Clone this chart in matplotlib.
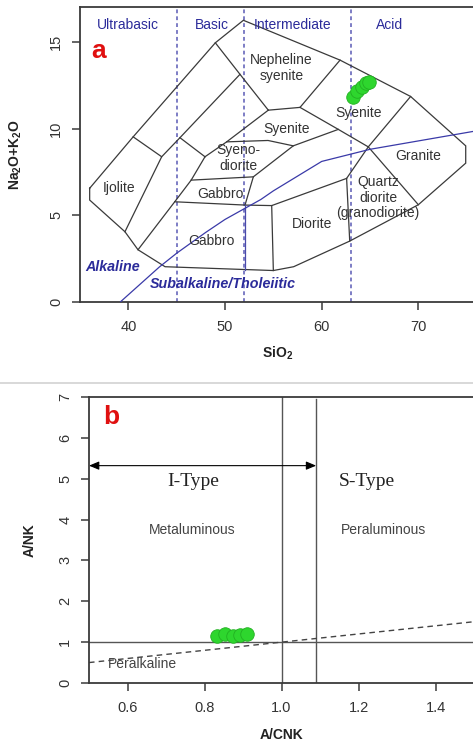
import matplotlib
matplotlib.use("Agg")
import matplotlib.pyplot as plt

plt.rcParams['font.family'] = ['Liberation Sans', 'DejaVu Sans']
plt.rcParams['mathtext.fontset'] = 'custom'
plt.rcParams['mathtext.rm'] = 'Liberation Sans'
plt.rcParams['mathtext.bf'] = 'Liberation Sans:bold'
plt.rcParams['mathtext.it'] = 'Liberation Sans:italic'

# ---------------- data ----------------
# samples, panel a (TAS)
sio2_samples = [63.2, 63.68, 64.13, 64.58, 64.92]
alk_samples = [11.81, 12.14, 12.39, 12.62, 12.71]
# samples, panel b (Shand)
acnk_samples = [0.832, 0.853, 0.875, 0.892, 0.910]
ank_samples = [1.15, 1.21, 1.15, 1.17, 1.19]

# Irvine & Baragar alkaline / subalkaline divide
ib_sio2 = [39.2, 40, 43.2, 45, 48, 50, 53.7, 55, 60, 65, 77.4]
ib_alk = [0, 0.4, 2, 2.8, 4, 4.75, 5.9, 6.4, 8.1, 8.8, 10]

# TAS (plutonic) field vertices (SiO2, Na2O+K2O)
V = {
    'K': (36.0, 6.55), 'R': (40.5, 9.52), 'A': (49.0, 14.95), 'B': (51.9, 16.25),
    'C': (61.9, 13.95), 'D': (69.2, 11.85), 'E': (74.9, 9.0), 'F': (74.9, 8.0),
    'G': (70.0, 5.6), 'H': (62.9, 3.5), 'I': (57.1, 2.02), 'J': (55.0, 1.8),
    'O': (43.8, 2.02), 'N': (41.0, 3.0), 'M': (39.65, 4.04), 'L': (36.0, 5.87),
    'S1': (43.45, 8.37), 'S2': (45.34, 9.47), 'T': (51.55, 13.13), 'S3': (47.93, 8.37),
    'U': (54.48, 11.06), 'Vx': (50.17, 9.23), 'SL': (46.5, 7.02), 'GL': (44.8, 5.77),
    'W': (57.76, 11.22), 'X': (61.72, 9.95), 'Q': (64.82, 8.94), 'Q2': (62.58, 7.12),
    'Z': (54.45, 9.31), 'Y': (57.06, 9.0), 'SD': (52.93, 7.21), 'GU': (52.07, 5.58),
    'DT': (54.83, 5.55), 'GB': (52.07, 1.83),
}
boundaries = [
    ['K', 'R', 'A', 'B', 'C', 'D', 'E', 'F', 'G', 'H', 'I', 'J', 'O', 'N', 'M', 'L', 'K'],
    ['R', 'S1', 'M'],
    ['S1', 'S2', 'T'],
    ['S2', 'S3'],
    ['A', 'T', 'U'],
    ['S3', 'Vx', 'U'],
    ['S3', 'SL', 'GL', 'N'],
    ['U', 'W', 'C'],
    ['W', 'X', 'Q', 'G'],
    ['D', 'Q'],
    ['Q', 'Q2', 'H'],
    ['Vx', 'Z', 'Y', 'X'],
    ['Y', 'SD', 'GU'],
    ['SL', 'SD'],
    ['GL', 'GU', 'DT', 'Q2'],
    ['DT', 'J'],
]
blue_boundaries = [['GU', 'GB']]

field_labels = [
    ('Nepheline\nsyenite', 55.86, 13.5), ('Syenite', 63.8, 10.9), ('Syenite', 56.4, 10.0),
    ('Syeno-\ndiorite', 51.4, 8.3), ('Gabbro', 49.5, 6.23), ('Gabbro', 48.6, 3.48),
    ('Diorite', 59.0, 4.5), ('Quartz\ndiorite\n(granodiorite)', 65.85, 6.0),
    ('Granite', 70.0, 8.42), ('Ijolite', 39.0, 6.56),
]
class_bounds = [45, 52, 63]
class_labels = [('Ultrabasic', 40.0), ('Basic', 48.6), ('Intermediate', 57.0), ('Acid', 67.0)]

# ---------------- figure ----------------
W, H = 473, 744
fig = plt.figure(figsize=(W / 100, H / 100), dpi=100)


def fx(px):
    return px / W


def fy(py):
    return 1 - py / H


dark = '#333333'
blue = '#2b2b9a'
green = '#2ed62e'
green_edge = '#22b022'

# ---------- panel a ----------
ax1 = fig.add_axes([fx(80), fy(301.7), (473 - 80) / W, (301.7 - 7.3) / H])
ax1.set_xlim(35, 35 + (473 - 80) / 9.667)
ax1.set_ylim(0, 17)

for line in boundaries:
    ax1.plot([V[k][0] for k in line], [V[k][1] for k in line], color='#3a3a3a', lw=0.9,
             solid_joinstyle='miter', zorder=2)
for line in blue_boundaries:
    ax1.plot([V[k][0] for k in line], [V[k][1] for k in line], color='#4a4aaa', lw=0.9, zorder=2)

ax1.plot(ib_sio2, ib_alk, color='#3a3aa8', lw=0.9, zorder=3)
for xb in class_bounds:
    ax1.axvline(xb, color='#5a5ab5', lw=1.1, ls=(0, (2.5, 2)), zorder=1)
for txt, xc in class_labels:
    ax1.text(xc, 16.0, txt, color=blue, fontsize=10, ha='center', va='center')

for txt, xc, yc in field_labels:
    ax1.text(xc, yc, txt, color='#333333', fontsize=10, ha='center', va='center',
             linespacing=1.12, zorder=4)

ax1.text(38.4, 1.98, 'Alkaline', color=blue, fontsize=10.3, fontweight='bold',
         fontstyle='italic', ha='center', va='center')
ax1.text(49.8, 1.04, 'Subalkaline/Tholeiitic', color=blue, fontsize=10.3, fontweight='bold',
         fontstyle='italic', ha='center', va='center')
ax1.text(36.9, 14.5, 'a', color='#e01010', fontsize=19, fontweight='bold',
         ha='center', va='center')

ax1.scatter(sio2_samples, alk_samples, s=95, color=green, edgecolor=green_edge,
            linewidth=0.6, zorder=6)

ax1.set_xticks([40, 50, 60, 70])
ax1.set_yticks([0, 5, 10, 15])

# ---------- panel b ----------
ax2 = fig.add_axes([fx(89), fy(683), (473 - 89) / W, (683 - 397) / H])
ax2.set_xlim(0.5, 0.5 + (473 - 89) / 385)
ax2.set_ylim(0, 7)

gray_line = '#555555'
ax2.axvline(1.0, color=gray_line, lw=1.0, zorder=2)
ax2.plot([1.09, 1.09], [0, 6.95], color=gray_line, lw=1.0, zorder=2)
ax2.axhline(1.0, color=gray_line, lw=1.0, zorder=2)
ax2.plot([0.5, 1.6], [0.5, 1.6], color='#444444', lw=1.0, ls=(0, (4, 3)), zorder=2)

ax2.annotate('', xy=(0.5, 5.32), xytext=(1.09, 5.32),
             arrowprops=dict(arrowstyle='<|-|>,head_length=0.6,head_width=0.25',
                             color='black', lw=0.8, shrinkA=0, shrinkB=0,
                             mutation_scale=10), zorder=3)

ax2.text(0.770, 4.93, 'I-Type', family=['Liberation Serif', 'DejaVu Serif'],
         fontsize=14, color='#222222', ha='center', va='center')
ax2.text(1.221, 4.92, 'S-Type', family=['Liberation Serif', 'DejaVu Serif'],
         fontsize=14, color='#222222', ha='center', va='center')
ax2.text(0.767, 3.74, 'Metaluminous', fontsize=10, color='#444444', ha='center', va='center')
ax2.text(1.266, 3.74, 'Peraluminous', fontsize=10, color='#444444', ha='center', va='center')
ax2.text(0.640, 0.465, 'Peralkaline', fontsize=10, color='#444444', ha='center', va='center')
ax2.text(0.559, 6.52, 'b', color='#e01010', fontsize=19, fontweight='bold',
         ha='center', va='center')

ax2.scatter(acnk_samples, ank_samples, s=95, color=green, edgecolor=green_edge,
            linewidth=0.6, zorder=6)

ax2.set_xticks([0.6, 0.8, 1.0, 1.2, 1.4])
ax2.set_xticklabels(['0.6', '0.8', '1.0', '1.2', '1.4'])
ax2.set_yticks(range(8))

# ---------- common axis styling ----------
for ax in (ax1, ax2):
    ax.spines['right'].set_visible(False)
    for s in ('left', 'bottom', 'top'):
        ax.spines[s].set_color('#3a3a3a')
        ax.spines[s].set_linewidth(1.3)
    ax.tick_params(axis='both', direction='out', length=6, width=1.1, color='#3a3a3a',
                   labelsize=10.5, labelcolor='#333333', pad=7)
    ax.tick_params(axis='y', labelrotation=90, pad=6)
    for lbl in ax.get_yticklabels():
        lbl.set_va('center')

# axis titles
fig.text(fx(15.5), fy(155), 'Na$_\\mathbf{2}$O+K$_\\mathbf{2}$O', rotation=90, fontsize=10,
         fontweight='bold', ha='center', va='center', color='#222222')
fig.text(fx(278), fy(353), 'SiO$_\\mathbf{2}$', fontsize=10, fontweight='bold',
         ha='center', va='center', color='#222222')
fig.text(fx(30), fy(540), 'A/NK', rotation=90, fontsize=10, fontweight='bold',
         ha='center', va='center', color='#222222')
fig.text(fx(282), fy(735), 'A/CNK', fontsize=10, fontweight='bold',
         ha='center', va='center', color='#222222')

# separator between the two panels
fig.add_artist(plt.Line2D([0, 1], [fy(383), fy(383)], transform=fig.transFigure,
                          color='#d6d6d6', lw=1.3))

fig.savefig('out.png', dpi=100)
